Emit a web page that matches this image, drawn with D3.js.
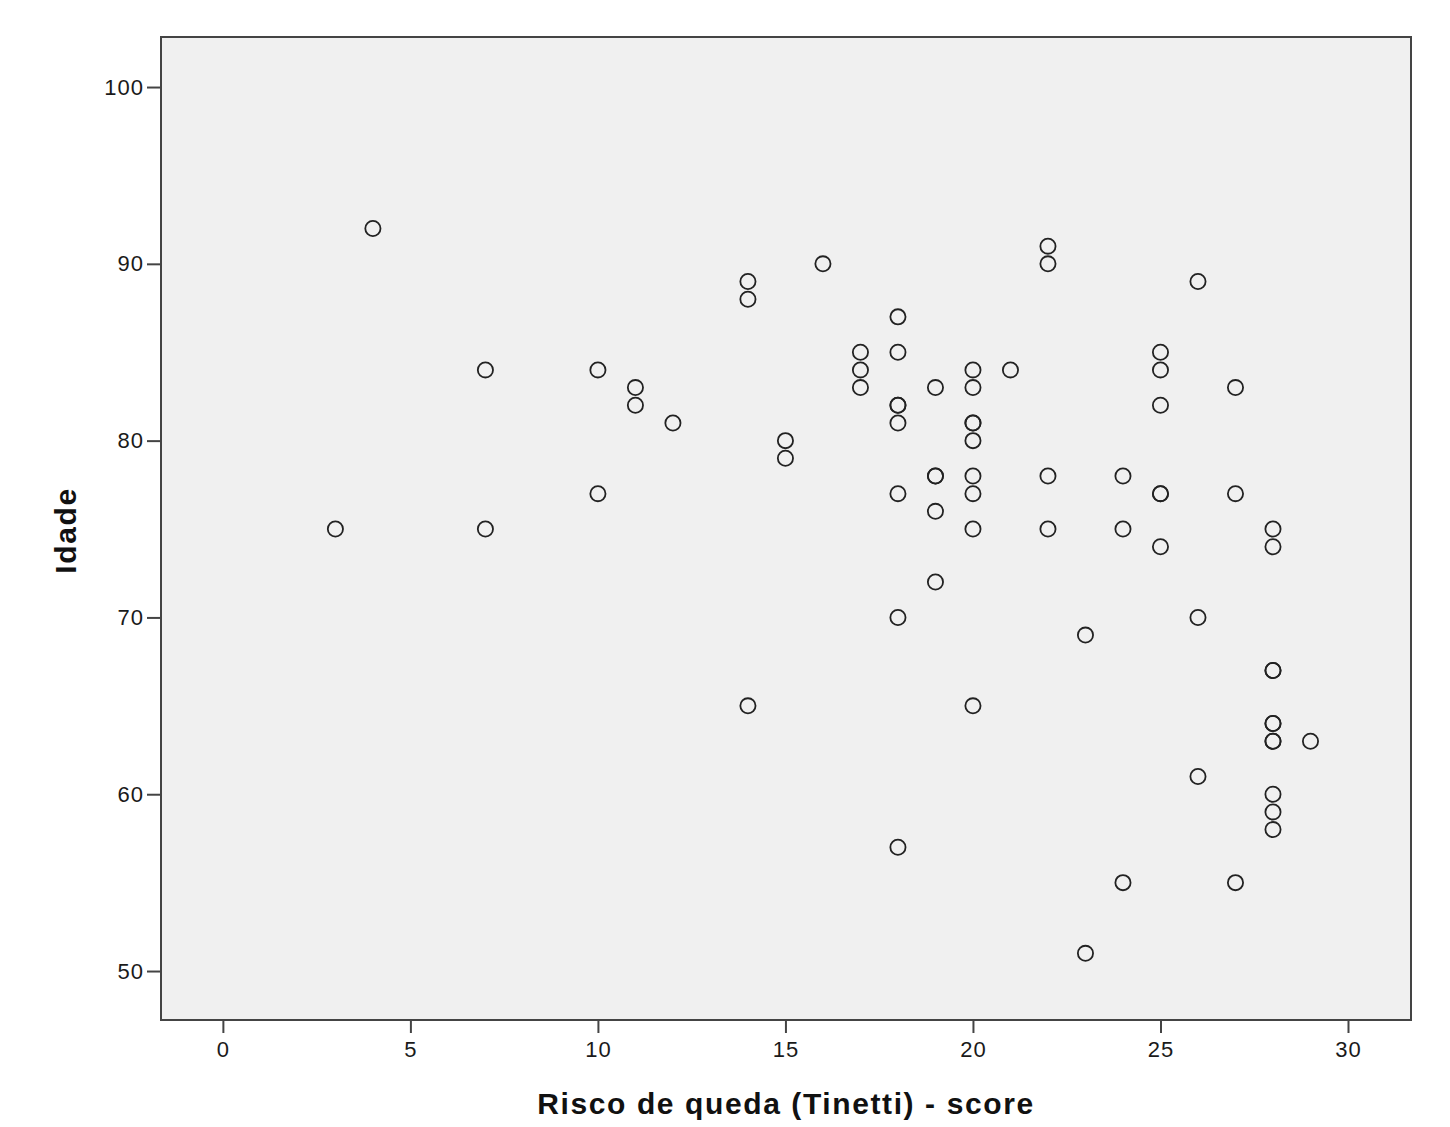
<!DOCTYPE html>
<html>
<head>
<meta charset="utf-8">
<script src="https://cdn.jsdelivr.net/npm/d3@7"></script>
<style>
  body { margin: 0; background: #fff; }
  text { font-family: Arial, "Liberation Sans", sans-serif; }
</style>
</head>
<body>
<div id="chart"></div>
<script>
// Tinetti score (x) and age (y), one entry per respondent
const tinetti = [3, 4, 7, 7, 10, 10, 11, 11, 12, 14, 14, 14, 15, 15, 16, 17, 17, 17,
  18, 18, 18, 18, 18, 18, 18, 18, 19, 19, 19, 19, 19,
  20, 20, 20, 20, 20, 20, 20, 20, 20, 21, 22, 22, 22, 22, 23, 23, 24, 24, 24,
  25, 25, 25, 25, 25, 25, 26, 26, 26, 27, 27, 27,
  28, 28, 28, 28, 28, 28, 28, 28, 28, 28, 28, 29];
const idade = [75, 92, 84, 75, 84, 77, 83, 82, 81, 89, 88, 65, 80, 79, 90, 85, 84, 83,
  87, 85, 82, 82, 81, 77, 70, 57, 83, 78, 78, 76, 72,
  84, 83, 81, 81, 80, 78, 77, 75, 65, 84, 91, 90, 78, 75, 69, 51, 78, 75, 55,
  85, 84, 82, 77, 77, 74, 89, 70, 61, 83, 77, 55,
  75, 74, 67, 67, 64, 64, 63, 63, 60, 59, 58, 63];

const xTicks = [0, 5, 10, 15, 20, 25, 30];
const yTicks = [50, 60, 70, 80, 90, 100];
const xDomain = [-1.65, 31.68];
const yDomain = [47.23, 102.83];
const xTitle = 'Risco de queda (Tinetti) - score';
const yTitle = 'Idade';

const width = 1450, height = 1127;
const margin = { top: 37, right: 39, bottom: 107, left: 161 };
const w = width - margin.left - margin.right;
const h = height - margin.top - margin.bottom;

const points = tinetti.map((d, i) => ({ x: d, y: idade[i] }));

const svg = d3.select('#chart').append('svg')
  .attr('width', width)
  .attr('height', height);

const chart = svg.append('g')
  .attr('transform', `translate(${margin.left},${margin.top})`);

const xScale = d3.scaleLinear().domain(xDomain).range([0, w]);
const yScale = d3.scaleLinear().domain(yDomain).range([h, 0]);

chart.append('rect')
  .attr('width', w)
  .attr('height', h)
  .attr('fill', '#f0f0f0');

const xAxis = d3.axisBottom(xScale).tickValues(xTicks).tickSize(13).tickPadding(8).tickFormat(d3.format('d'));
const yAxis = d3.axisLeft(yScale).tickValues(yTicks).tickSize(14).tickPadding(3).tickFormat(d3.format('d'));

const gx = chart.append('g')
  .attr('transform', `translate(0,${h})`)
  .call(xAxis);
const gy = chart.append('g').call(yAxis);

[gx, gy].forEach(g => {
  g.select('.domain').remove();
  g.selectAll('.tick line').attr('stroke', '#444').attr('stroke-width', 2);
  g.selectAll('.tick text')
    .attr('fill', '#1a1a1a')
    .style('font-size', '22px')
    .style('letter-spacing', '1px');
});

chart.append('rect')
  .attr('width', w)
  .attr('height', h)
  .attr('fill', 'none')
  .attr('stroke', '#444')
  .attr('stroke-width', 2);

chart.selectAll('.pt')
  .data(points)
  .enter()
  .append('circle')
  .classed('pt', true)
  .attr('cx', d => xScale(d.x))
  .attr('cy', d => yScale(d.y))
  .attr('r', 7.6)
  .attr('fill', 'none')
  .attr('stroke', '#222')
  .attr('stroke-width', 1.8);

svg.append('text')
  .attr('x', margin.left + w / 2)
  .attr('y', 1114)
  .attr('text-anchor', 'middle')
  .style('font-size', '30px')
  .style('font-weight', 'bold')
  .style('letter-spacing', '1.6px')
  .attr('fill', '#111')
  .text(xTitle);

svg.append('text')
  .attr('transform', `translate(76,${margin.top + h / 2 + 2}) rotate(-90)`)
  .attr('text-anchor', 'middle')
  .style('font-size', '30px')
  .style('font-weight', 'bold')
  .style('letter-spacing', '1.6px')
  .attr('fill', '#111')
  .text(yTitle);
</script>
</body>
</html>
